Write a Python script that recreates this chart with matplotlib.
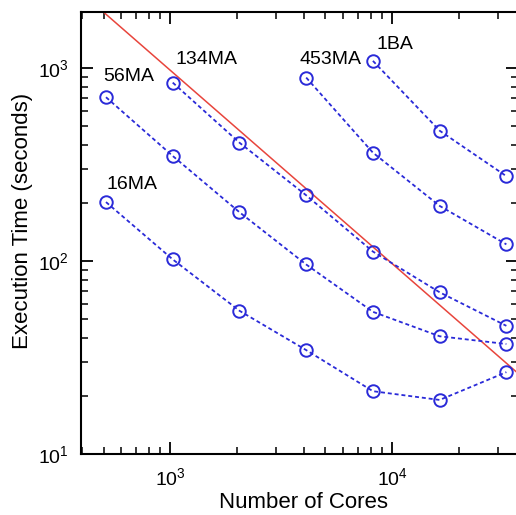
import numpy as np
import matplotlib.pyplot as plt

plt.rcParams['font.family'] = ['Liberation Sans', 'DejaVu Sans']
plt.rcParams['mathtext.fontset'] = 'custom'
plt.rcParams['mathtext.rm'] = 'Liberation Sans'

# cores used for each problem size
cores_16ma = [512, 1024, 2048, 4096, 8192, 16384, 32768]
cores_56ma = [512, 1024, 2048, 4096, 8192, 16384, 32768]
cores_134ma = [1024, 2048, 4096, 8192, 16384, 32768]
cores_453ma = [4096, 8192, 16384, 32768]
cores_1ba = [8192, 16384, 32768]

# execution time in seconds
time_16ma = [202, 102, 55.3, 34.6, 21.2, 19.1, 26.6]
time_56ma = [705, 350, 179, 96, 54.6, 40.8, 37.2]
time_134ma = [839, 410, 219, 112, 68.9, 46.2]
time_453ma = [891, 364, 193, 122]
time_1ba = [1087, 473, 275]

labels = ["16MA", "56MA", "134MA", "453MA", "1BA"]

# ideal scaling reference: time = ideal_const / cores
ideal_const = 9.7e5
ideal_cores = [390, 40000]

series = [(cores_16ma, time_16ma), (cores_56ma, time_56ma),
          (cores_134ma, time_134ma), (cores_453ma, time_453ma),
          (cores_1ba, time_1ba)]

fig = plt.figure(figsize=(5.16, 5.15), dpi=100)
ax = fig.add_axes([0.157, 0.118, 0.847, 0.859])

ic = np.array(ideal_cores, dtype=float)
ax.plot(ic, ideal_const / ic, color="#e8453c", linewidth=1.1)

for c, t in series:
    ax.plot(c, t, linestyle=(0, (2.2, 1.6)), color="#2a2ad8", linewidth=1.3,
            marker="o", markersize=9, markerfacecolor="none",
            markeredgecolor="#2a2ad8", markeredgewidth=1.4)

# label offsets in pixels from the first point of each series
offsets = [(1, 9), (-3, 12), (3, 15), (-7, 10), (4, 8)]
for (c, t), lab, (dx, dy) in zip(series, labels, offsets):
    ax.annotate(lab, (c[0], t[0]), xytext=(dx, dy), textcoords="offset pixels",
                ha="left", va="bottom", fontsize=14)

ax.set_xscale("log")
ax.set_yscale("log")
ax.set_xlim(395, 37000)
ax.set_ylim(10, 1950)
ax.set_xlabel("Number of Cores", fontsize=16)
ax.set_ylabel("Execution Time (seconds)", fontsize=16)
ax.xaxis.set_label_coords(0.508, -0.085)
ax.yaxis.set_label_coords(-0.110, 0.527)

ax.tick_params(which="both", direction="in", top=True, right=True, labelsize=14)
ax.tick_params(which="major", length=8.4, width=1.3, pad=9)
ax.tick_params(which="minor", length=5, width=1.1)
for s in ax.spines.values():
    s.set_linewidth(1.5)

fig.savefig("out.png", dpi=100)
